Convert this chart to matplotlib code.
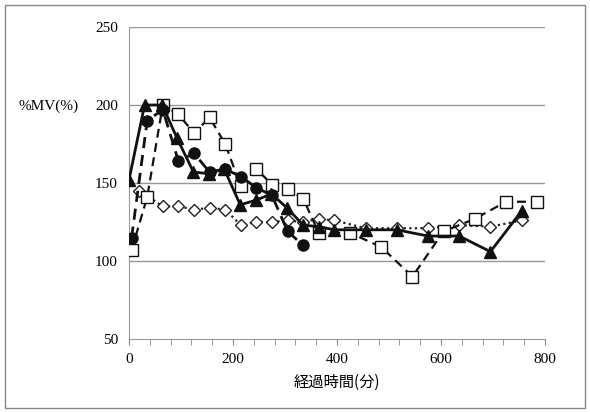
import numpy as np
import matplotlib.pyplot as plt
from matplotlib.patches import Rectangle
from matplotlib.ticker import MultipleLocator

# 経過時間(分) と %MV(%) — 図から読み取った値
tri_x = [0, 30, 64, 92, 124, 153, 183, 214, 244, 274, 304, 335, 365, 395, 455, 515, 575, 635, 695, 755]
tri_y = [152, 200, 200, 179, 157, 156, 159, 136, 139, 143, 134, 123, 122, 120, 120, 120, 116, 116, 106, 132]

circ_x = [5, 35, 65, 95, 125, 155, 185, 215, 245, 275, 305, 335]
circ_y = [115, 190, 197, 164, 169, 157, 159, 154, 147, 142, 119, 110]

sq_x = [5, 35, 65, 95, 125, 155, 185, 215, 245, 275, 305, 335, 365, 425, 485, 545, 605, 665, 725, 785]
sq_y = [107, 141, 200, 194, 182, 192, 175, 148, 159, 149, 146, 140, 118, 118, 109, 90, 119, 127, 138, 138]

dia_x = [20, 65, 95, 125, 155, 185, 215, 245, 275, 305, 335, 365, 395, 455, 515, 575, 635, 695, 755]
dia_y = [145, 135, 135, 133, 134, 133, 123, 125, 125, 126, 125, 127, 126, 121, 121, 121, 123, 122, 126]

xticks = [0, 200, 400, 600, 800]
yticks = [50, 100, 150, 200, 250]

plt.rcParams['font.family'] = ['Liberation Serif', 'Noto Sans CJK JP']

fig = plt.figure(figsize=(5.9, 4.12), dpi=100)
ax = fig.add_axes([129 / 590, 1 - 339 / 412, 416 / 590, 312 / 412])

grid_c = '#a3958d'
for v in yticks[1:]:
    ax.axhline(v, color=grid_c, lw=1.0, zorder=0)

ax.plot(dia_x, dia_y, color='#222222', ls=(0, (1, 1.5)), lw=1.6,
        marker='D', ms=6, mfc='white', mec='#222222', mew=1.0, zorder=3)
ax.plot(sq_x, sq_y, color='#111111', ls=(0, (4, 2.5)), lw=1.6,
        marker='s', ms=8, mfc='white', mec='#111111', mew=1.0, zorder=4)
ax.plot(circ_x, circ_y, color='#111111', ls=(0, (4, 2.5)), lw=2.0,
        marker='o', ms=8, mfc='#111111', mec='#111111', zorder=5)
ax.plot(tri_x, tri_y, color='#111111', ls='-', lw=2.0,
        marker='^', ms=8, mfc='#111111', mec='#111111', zorder=6)

ax.set_xlim(0, 800)
ax.set_ylim(50, 250)
ax.set_xticks(xticks)
ax.set_yticks(yticks)
ax.xaxis.set_minor_locator(MultipleLocator(40))
ax.tick_params(axis='x', which='both', direction='out', length=4, color='#888888',
               labelsize=11, pad=6)
ax.tick_params(axis='y', length=0, labelsize=11, pad=8)

for s in ['top', 'right']:
    ax.spines[s].set_visible(False)
ax.spines['left'].set_color('#999999')
ax.spines['bottom'].set_color('#999999')

fig.text(49 / 590, 1 - 106 / 412, '%MV(%)', ha='center', va='center', fontsize=11)
ax.set_xlabel('経過時間(分)', fontsize=11, labelpad=6,
              family=['Noto Sans CJK JP', 'DejaVu Sans'])

fig.patches.append(Rectangle((5 / 590, 4 / 412), 580 / 590, 403 / 412,
                             transform=fig.transFigure, fill=False,
                             edgecolor='#888888', lw=1.0))

fig.savefig('out.png', dpi=100)
